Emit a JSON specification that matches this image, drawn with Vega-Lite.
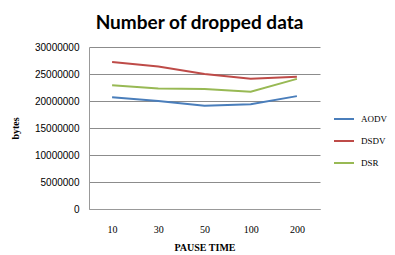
{
  "$schema": "https://vega.github.io/schema/vega-lite/v6.json",
  "width": 231,
  "height": 162,
  "autosize": {"type": "none"},
  "padding": {"left": 89, "top": 47, "right": 75, "bottom": 46},
  "background": "white",
  "title": {
    "text": "Number of dropped data",
    "font": "Lato",
    "fontSize": 19,
    "fontWeight": "bold",
    "color": "#000000",
    "anchor": "middle",
    "offset": 9,
    "dx": -5
  },
  "config": {
    "view": {"stroke": null}
  },
  "data": {
    "values": [
      {"pause": "10", "protocol": "AODV", "bytes": 20700000},
      {"pause": "30", "protocol": "AODV", "bytes": 20000000},
      {"pause": "50", "protocol": "AODV", "bytes": 19100000},
      {"pause": "100", "protocol": "AODV", "bytes": 19400000},
      {"pause": "200", "protocol": "AODV", "bytes": 20900000},
      {"pause": "10", "protocol": "DSDV", "bytes": 27200000},
      {"pause": "30", "protocol": "DSDV", "bytes": 26400000},
      {"pause": "50", "protocol": "DSDV", "bytes": 25000000},
      {"pause": "100", "protocol": "DSDV", "bytes": 24100000},
      {"pause": "200", "protocol": "DSDV", "bytes": 24500000},
      {"pause": "10", "protocol": "DSR", "bytes": 22900000},
      {"pause": "30", "protocol": "DSR", "bytes": 22300000},
      {"pause": "50", "protocol": "DSR", "bytes": 22200000},
      {"pause": "100", "protocol": "DSR", "bytes": 21700000},
      {"pause": "200", "protocol": "DSR", "bytes": 24100000}
    ]
  },
  "mark": {"type": "line", "strokeWidth": 2},
  "encoding": {
    "x": {
      "field": "pause",
      "type": "ordinal",
      "sort": ["10", "30", "50", "100", "200"],
      "scale": {"type": "point", "padding": 0.5},
      "axis": {
        "title": "PAUSE TIME",
        "titleFont": "Liberation Serif",
        "titleFontSize": 10,
        "titleFontWeight": "bold",
        "titleColor": "#000000",
        "titlePadding": 8,
        "labelFont": "Liberation Serif",
        "labelFontSize": 10,
        "labelColor": "#000000",
        "labelPadding": 15,
        "labelAngle": 0,
        "ticks": false,
        "domain": true,
        "domainColor": "#999999",
        "grid": false
      }
    },
    "y": {
      "field": "bytes",
      "type": "quantitative",
      "scale": {"domain": [0, 30000000], "nice": false},
      "axis": {
        "title": "bytes",
        "titleFont": "Liberation Serif",
        "titleFontSize": 10,
        "titleFontWeight": "bold",
        "titleColor": "#000000",
        "titlePadding": 14,
        "values": [0, 5000000, 10000000, 15000000, 20000000, 25000000, 30000000],
        "format": "d",
        "labelFont": "Liberation Sans",
        "labelFontSize": 10,
        "labelColor": "#000000",
        "labelPadding": 10,
        "ticks": false,
        "domain": true,
        "domainColor": "#999999",
        "grid": true,
        "gridColor": "#8c8c8c",
        "gridWidth": 1
      }
    },
    "color": {
      "field": "protocol",
      "type": "nominal",
      "scale": {"domain": ["AODV", "DSDV", "DSR"], "range": ["#4A7EBB", "#BE4B48", "#98B954"]},
      "legend": {
        "title": null,
        "orient": "none",
        "legendX": 244,
        "legendY": 61,
        "symbolType": "stroke",
        "symbolSize": 400,
        "symbolStrokeWidth": 2,
        "rowPadding": 6,
        "labelFont": "Liberation Serif",
        "labelFontSize": 9,
        "labelColor": "#000000",
        "labelOffset": 6
      }
    }
  }
}
